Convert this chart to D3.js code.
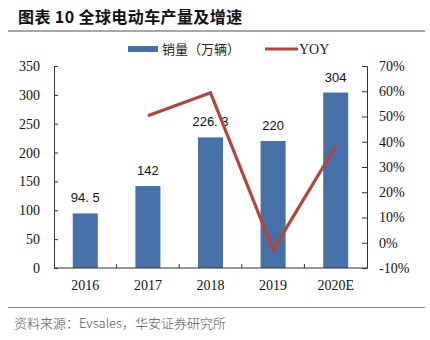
<!DOCTYPE html>
<html>
<head>
<meta charset="utf-8">
<script src="https://cdn.jsdelivr.net/npm/d3@7"></script>
<style>
  body { margin: 0; background: #fff; }
  svg { display: block; }
</style>
</head>
<body>
<div id="chart"></div>
<script>
// data
var years = ['2016', '2017', '2018', '2019', '2020E'];
var sales = [94.5, 142, 226.3, 220, 304];
var salesLabels = ['94. 5', '142', '226. 3', '220', '304'];
var yoyYears = ['2017', '2018', '2019', '2020E'];
var yoy = [50.3, 59.4, -2.8, 38.2];
var leftTicks = [0, 50, 100, 150, 200, 250, 300, 350];
var rightTicks = [-10, 0, 10, 20, 30, 40, 50, 60, 70];

var W = 430, H = 340;
var margin = {top: 66, right: 63, bottom: 72, left: 54};
var barColor = '#4670A8', lineColor = '#B5443F';
var serif = '"Liberation Serif", "DejaVu Serif", serif';
var cjk = '"Noto Sans CJK SC", sans-serif';

var svg = d3.select('#chart').append('svg')
    .attr('width', W).attr('height', H);

// title + rules
svg.append('text')
    .attr('x', 18).attr('y', 23)
    .style('font-family', cjk).style('font-weight', 'bold').style('font-size', '16px')
    .style('letter-spacing', '0.4px')
    .attr('fill', '#111')
    .text('图表 10 全球电动车产量及增速');
svg.append('line').attr('x1', 8).attr('x2', 425).attr('y1', 31).attr('y2', 31)
    .attr('stroke', '#8a8a8a').attr('stroke-width', 1.5);
svg.append('line').attr('x1', 8).attr('x2', 425).attr('y1', 307.5).attr('y2', 307.5)
    .attr('stroke', '#8a8a8a').attr('stroke-width', 1.2);
svg.append('text')
    .attr('x', 14).attr('y', 328)
    .style('font-family', cjk).style('font-size', '13px').style('font-weight', 300)
    .attr('fill', '#555')
    .text('资料来源：Evsales，华安证券研究所');

// legend
var leg = svg.append('g');
leg.append('rect').attr('x', 128).attr('y', 46).attr('width', 30).attr('height', 6).attr('fill', barColor);
leg.append('text').attr('x', 162).attr('y', 54)
    .style('font-family', cjk).style('font-size', '13px').attr('fill', '#222')
    .text('销量（万辆）');
leg.append('line').attr('x1', 265).attr('x2', 298).attr('y1', 49).attr('y2', 49)
    .attr('stroke', lineColor).attr('stroke-width', 3);
leg.append('text').attr('x', 299).attr('y', 54)
    .style('font-family', serif).style('font-size', '14px').attr('fill', '#222')
    .text('YOY');

// scales
var x0 = margin.left, x1 = W - margin.right;
var yTop = margin.top, yBot = H - margin.bottom;

var x = d3.scaleBand().domain(years).range([x0, x1]).paddingInner(0.6).paddingOuter(0.3);
var xc = function (d) { return x(d) + x.bandwidth() / 2; };
var yL = d3.scaleLinear().domain([0, 350]).range([yBot, yTop]);
var yR = d3.scaleLinear().domain([-10, 70]).range([yBot, yTop]);

// bars
svg.append('g').selectAll('rect')
    .data(sales).enter().append('rect')
    .attr('x', function (d, i) { return x(years[i]); })
    .attr('y', function (d) { return yL(d); })
    .attr('width', x.bandwidth())
    .attr('height', function (d) { return yBot - yL(d); })
    .attr('fill', barColor);

// bar labels
svg.append('g').selectAll('text')
    .data(sales).enter().append('text')
    .attr('x', function (d, i) { return xc(years[i]); })
    .attr('y', function (d) { return yL(d) - 11; })
    .attr('text-anchor', 'middle')
    .style('font-family', '"Liberation Sans", Arial, sans-serif').style('font-size', '13px')
    .attr('fill', '#111')
    .text(function (d, i) { return salesLabels[i]; });

// yoy line
var line = d3.line()
    .x(function (d, i) { return xc(yoyYears[i]); })
    .y(function (d) { return yR(d); });
svg.append('path').datum(yoy)
    .attr('d', line)
    .attr('fill', 'none')
    .attr('stroke', lineColor)
    .attr('stroke-width', 3.2)
    .attr('stroke-linejoin', 'miter');

// axes
var axisStyle = function (g) {
    g.select('.domain').attr('stroke', '#333');
    g.selectAll('.tick line').attr('stroke', '#333');
    g.selectAll('.tick text').style('font-family', serif).style('font-size', '14px').attr('fill', '#111');
};

svg.append('g')
    .attr('transform', 'translate(' + x0 + ',0)')
    .call(d3.axisLeft(yL).tickValues(leftTicks).tickSizeInner(-4).tickSizeOuter(-4).tickPadding(14))
    .call(axisStyle);

svg.append('g')
    .attr('transform', 'translate(' + x1 + ',0)')
    .call(d3.axisRight(yR).tickValues(rightTicks).tickSizeInner(-5).tickSizeOuter(-5).tickPadding(12)
        .tickFormat(function (d) { return d + '%'; }))
    .call(axisStyle);

// category axis with ticks between categories
var xAxis = svg.append('g').attr('transform', 'translate(0,' + yBot + ')');
xAxis.append('line').attr('x1', x0).attr('x2', x1).attr('stroke', '#333');
var step = x.step();
xAxis.selectAll('line.tk')
    .data(years.slice(1)).enter().append('line')
    .attr('class', 'tk')
    .attr('x1', function (d) { return x(d) - step * x.paddingInner() / 2; })
    .attr('x2', function (d) { return x(d) - step * x.paddingInner() / 2; })
    .attr('y1', 0).attr('y2', -4)
    .attr('stroke', '#333');
xAxis.selectAll('text')
    .data(years).enter().append('text')
    .attr('x', function (d) { return xc(d); })
    .attr('y', 22)
    .attr('text-anchor', 'middle')
    .style('font-family', serif).style('font-size', '14px').attr('fill', '#111')
    .text(function (d) { return d; });
</script>
</body>
</html>
